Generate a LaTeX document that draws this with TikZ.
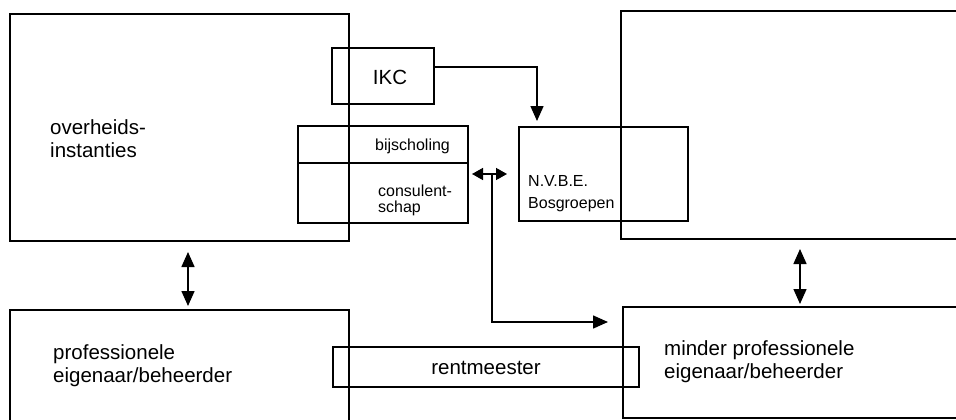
\documentclass[tikz,border=0pt]{standalone}
\usepackage{fontspec}
\setmainfont{Liberation Sans}
\usetikzlibrary{arrows.meta}
\begin{document}
\begin{tikzpicture}[x=1pt,y=-1pt,
  box/.style={draw,line width=1.5pt,inner sep=0pt},
  conn/.style={line width=1.5pt},
  tip/.style={-{Triangle[width=13pt,length=15pt]}},
  dtip/.style={{Triangle[width=13pt,length=15pt]}-{Triangle[width=13pt,length=15pt]}},
  htip/.style={{Triangle[width=12pt,length=11pt]}-{Triangle[width=12pt,length=11pt]}},
  bigfont/.style={font=\fontsize{20.5}{23}\selectfont},
  big/.style={bigfont,align=left,inner sep=0pt,anchor=west},
  small/.style={font=\fontsize{16}{16}\selectfont,align=left,inner sep=0pt,anchor=west}]
\useasboundingbox (0,0) rectangle (956,420);
% boxes
\node[box,minimum width=339pt,minimum height=227pt] (gov) at (179.5,127.5) {};
\node[box,minimum width=102pt,minimum height=56pt] (ikc) at (383,76) {};
\node[box,minimum width=170pt,minimum height=37pt] (bij) at (383,144.5) {};
\node[box,minimum width=170pt,minimum height=60pt] (cons) at (383,193) {};
\node[box,minimum width=169pt,minimum height=94pt] (nvbe) at (603.5,174) {};
\node[box,minimum width=340pt,minimum height=228pt] (tr) at (791,125) {};
\node[box,minimum width=339pt,minimum height=112pt] (prof) at (179.5,366) {};
\node[box,minimum width=340pt,minimum height=111pt] (minder) at (793,362.5) {};
\node[box,minimum width=306pt,minimum height=40pt] (rent) at (486,367) {};
% labels
\node[bigfont,inner sep=0pt] (tikc) at (390,77) {IKC};
\node[bigfont,inner sep=0pt] (trent) at (486,368) {rentmeester};
\node[big] (tgov) at (50,138.5) {overheids-\\instanties};
\node[small] (tbij) at (375,146) {bijscholing};
\node[small] (tcons) at (378,200) {consulent-\\schap};
\node[small,font=\fontsize{16}{22}\selectfont] (tnvbe) at (528,194) {N.V.B.E.\\Bosgroepen};
\node[big] (tprof) at (53,366) {professionele\\eigenaar/beheerder};
\node[big] (tminder) at (664,362) {minder professionele\\eigenaar/beheerder};
% connectors
\coordinate (ga) at (188,252);
\coordinate (pa) at (188,306);
\draw[conn,dtip] (ga) -- (pa);
\coordinate (ta) at (800,249);
\coordinate (ma) at (800,304);
\draw[conn,dtip] (ta) -- (ma);
\coordinate (ikcbend) at (537,67);
\coordinate (nvbetip) at (537,121);
\draw[conn,tip] (ikc.east |- ikcbend) -- (ikcbend) -- (nvbetip);
\coordinate (hl) at (472,174);
\coordinate (hr) at (507,174);
\draw[conn,htip] (hl) -- (hr);
\coordinate (vt) at (492,174);
\coordinate (vb) at (492,322);
\coordinate (vend) at (608,322);
\draw[conn,tip] (vt) -- (vb) -- (vend);
\end{tikzpicture}
\end{document}
